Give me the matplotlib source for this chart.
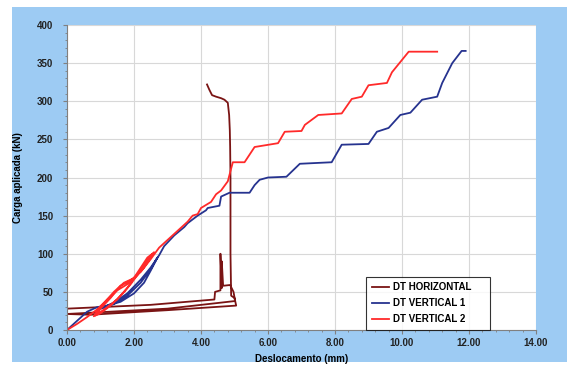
import matplotlib.pyplot as plt
from matplotlib.patches import Rectangle
from matplotlib.ticker import MultipleLocator, FormatStrFormatter

# DT HORIZONTAL
hx = [0, 0, 1.0, 2.5, 4.4, 4.42, 4.58, 4.58, 4.62, 4.62, 4.66, 4.87, 4.97, 5.02,
      3.0, 0.0, 0.7, 3.0, 5.05, 5.0, 4.9, 4.88, 4.88, 4.87, 4.86, 4.84, 4.8,
      4.7, 4.6, 4.45, 4.33, 4.25, 4.18]
hy = [0, 28, 30, 33, 40, 50, 52, 100, 55, 90, 58, 59, 50, 38,
      28, 21, 20, 26, 32, 42, 45, 100, 200, 240, 262, 282, 298,
      302, 304, 306, 308, 315, 322]

# DT VERTICAL 1
v1x = [0, 0.3, 0.6, 0.9, 1.2, 1.6, 2.0, 2.3, 2.5, 2.7,
       2.5, 2.2, 1.8, 1.4, 1.0,
       1.4, 1.8, 2.2, 2.5, 2.75, 2.9, 3.2, 3.5, 3.6, 3.9, 4.15, 4.2, 4.55,
       4.6, 4.85, 5.45, 5.6, 5.75, 6.0, 6.55, 6.95, 7.9, 8.2, 9.0, 9.25, 9.6,
       9.95, 10.25, 10.6, 11.05, 11.2, 11.5, 11.78, 11.9]
v1y = [0, 12, 24, 30, 32, 37, 48, 62, 78, 95,
       80, 62, 45, 34, 28,
       36, 48, 66, 82, 98, 110, 124, 135, 140, 150, 157, 160, 163,
       175, 180, 180, 190, 197, 200, 201, 218, 220, 243, 244, 260, 265,
       282, 285, 302, 306, 324, 350, 366, 366]

# DT VERTICAL 2
v2x = [0, 0.3, 0.6, 0.9, 1.2, 1.5, 1.8, 2.1, 2.4, 2.55,
       2.4, 2.1, 1.8, 1.5, 1.2, 0.95, 0.8,
       0.9, 1.1, 1.4, 1.7, 2.0, 2.3, 2.6,
       2.45, 2.2, 1.9, 1.6, 1.3, 1.0, 0.85,
       1.0, 1.3, 1.6, 1.9, 2.2, 2.5, 2.75, 3.0, 3.3, 3.6, 3.75, 3.9, 4.0,
       4.3, 4.45, 4.6, 4.8, 4.92, 4.95, 5.3, 5.6, 6.3, 6.5, 7.0, 7.1, 7.5,
       8.2, 8.5, 8.8, 9.0, 9.55, 9.7, 10.2, 11.05]
v2y = [0, 8, 17, 27, 40, 52, 60, 72, 90, 100,
       95, 75, 55, 40, 30, 22, 18,
       25, 35, 50, 62, 68, 82, 102,
       95, 78, 60, 45, 32, 22, 19,
       28, 42, 58, 65, 76, 93, 108, 118, 130, 142, 150, 152, 160,
       168, 178, 183, 195, 215, 220, 220, 240, 245, 260, 261, 269, 282,
       284, 303, 306, 321, 324, 338, 365, 365]

plt.rcParams['font.family'] = 'Liberation Sans'
plt.rcParams['font.weight'] = 'bold'

fig = plt.figure(figsize=(5.71, 3.68), dpi=100)
fig.patch.set_facecolor('white')
fig.patches.append(Rectangle((12 / 571, 6 / 368), 555 / 571, 355 / 368,
                             transform=fig.transFigure, facecolor='#9dcbf3',
                             edgecolor='none', zorder=-10))

ax = fig.add_axes([67 / 571, 1 - 330 / 368, 469 / 571, 305 / 368])
ax.set_facecolor('white')

ax.plot(hx, hy, color='#7a1414', lw=1.3, label='DT HORIZONTAL')
ax.plot(v1x, v1y, color='#26338f', lw=1.3, label='DT VERTICAL 1')
ax.plot(v2x, v2y, color='#ff2a2a', lw=1.3, label='DT VERTICAL 2')

ax.set_xlim(0, 14)
ax.set_ylim(0, 400)
ax.xaxis.set_major_locator(MultipleLocator(2))
ax.xaxis.set_minor_locator(MultipleLocator(0.4))
ax.yaxis.set_major_locator(MultipleLocator(50))
ax.yaxis.set_minor_locator(MultipleLocator(10))
ax.xaxis.set_major_formatter(FormatStrFormatter('%.2f'))
ax.grid(True, which='major', color='#d8d8d8', lw=0.8)
ax.set_axisbelow(True)
for s in ['top', 'right']:
    ax.spines[s].set_visible(False)
for s in ['left', 'bottom']:
    ax.spines[s].set_color('#808080')
    ax.spines[s].set_linewidth(0.8)
ax.tick_params(which='major', length=3, labelsize=7, colors='#808080',
               labelcolor='#222222')
ax.tick_params(axis='y', which='major', pad=7)
ax.tick_params(axis='x', which='major', pad=3)
ax.tick_params(which='minor', length=1.5, colors='#808080')

ax.set_xlabel('Deslocamento (mm)', fontsize=7, fontweight='bold', labelpad=4)
ax.set_ylabel('Carga aplicada (kN)', fontsize=7, fontweight='bold', labelpad=10)

leg = ax.legend(loc='lower left', bbox_to_anchor=(0.6375, 0.0, 0.265, 0.174),
                mode='expand', borderaxespad=0, fancybox=False,
                edgecolor='black', fontsize=7, handlelength=1.8,
                handletextpad=0.4, labelspacing=0.6, borderpad=0.6)
leg.get_frame().set_linewidth(0.8)

fig.savefig('out.png', dpi=100)
